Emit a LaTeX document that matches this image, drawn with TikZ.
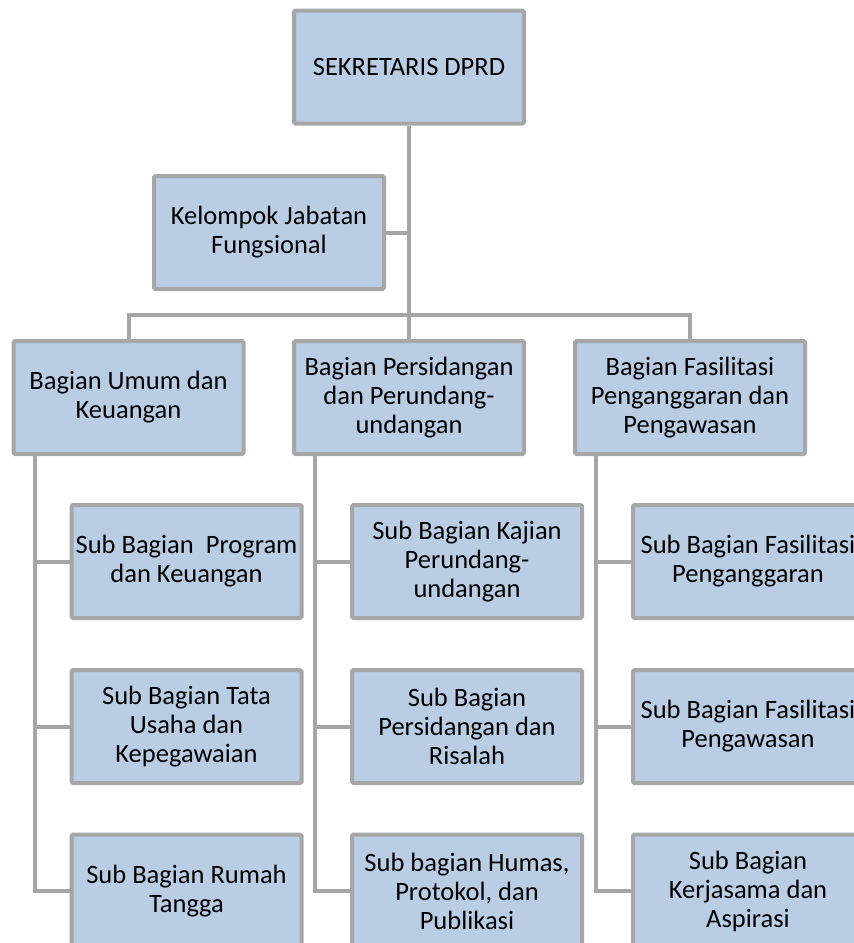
\documentclass[tikz,border=0pt]{standalone}
\usepackage{fontspec}
\setmainfont{Carlito}
\definecolor{boxfill}{HTML}{B9CDE5}
\definecolor{boxline}{HTML}{A6A6A6}
\pgfdeclarelayer{background}
\pgfsetlayers{background,main}
\begin{document}
\begin{tikzpicture}[x=1pt,y=-1pt,
  box/.style={draw=boxline, fill=boxfill, line width=4pt, rounded corners=1.5pt,
    minimum width=230pt, minimum height=113pt, inner sep=0pt, align=center,
    font=\fontsize{26.5}{29}\selectfont, text=black},
  conn/.style={draw=boxline, line width=4pt}]
\useasboundingbox (0,0) rectangle (854,943);
\clip (0,0) rectangle (854,943);

\node[box] (top) at (409,67) {SEKRETARIS DPRD};
\node[box] (kjf) at (269,232.5) {Kelompok Jabatan\\Fungsional};

\node[box] (b1) at (128.5,397.5) {Bagian Umum dan\\Keuangan};
\node[box] (b2) at (409,397.5) {Bagian Persidangan\\dan Perundang-\\undangan};
\node[box] (b3) at (690,397.5) {Bagian Fasilitasi\\Penganggaran dan\\Pengawasan};

\node[box] (s11) at (186.5,561.5) {Sub Bagian~ Program\\dan Keuangan};
\node[box] (s12) at (186.5,726.5) {Sub Bagian Tata\\Usaha dan\\Kepegawaian};
\node[box] (s13) at (186.5,891) {Sub Bagian Rumah\\Tangga};

\node[box] (s21) at (467,561.5) {Sub Bagian Kajian\\Perundang-\\undangan};
\node[box] (s22) at (467,726.5) {Sub Bagian\\Persidangan dan\\Risalah};
\node[box] (s23) at (467,891) {Sub bagian Humas,\\Protokol, dan\\Publikasi};

\node[box] (s31) at (748,561.5) {Sub Bagian Fasilitasi\\Penganggaran};
\node[box] (s32) at (748,726.5) {Sub Bagian Fasilitasi\\Pengawasan};
\node[box] (s33) at (748,891) {Sub Bagian\\Kerjasama dan\\Aspirasi};

\coordinate (bar) at (409,315);

\begin{pgfonlayer}{background}
\draw[conn] (top.south) -- (b2.north);
\draw[conn] (kjf.east) -- (kjf.east -| top.south);
\draw[conn] (b1.north) |- (bar) -| (b3.north);

\draw[conn] ([xshift=23pt]b1.south west) coordinate (v1) |- (s13.west);
\draw[conn] (s11.west) -- (s11.west -| v1);
\draw[conn] (s12.west) -- (s12.west -| v1);

\draw[conn] ([xshift=23pt]b2.south west) coordinate (v2) |- (s23.west);
\draw[conn] (s21.west) -- (s21.west -| v2);
\draw[conn] (s22.west) -- (s22.west -| v2);

\draw[conn] ([xshift=23pt]b3.south west) coordinate (v3) |- (s33.west);
\draw[conn] (s31.west) -- (s31.west -| v3);
\draw[conn] (s32.west) -- (s32.west -| v3);
\end{pgfonlayer}
\end{tikzpicture}
\end{document}
